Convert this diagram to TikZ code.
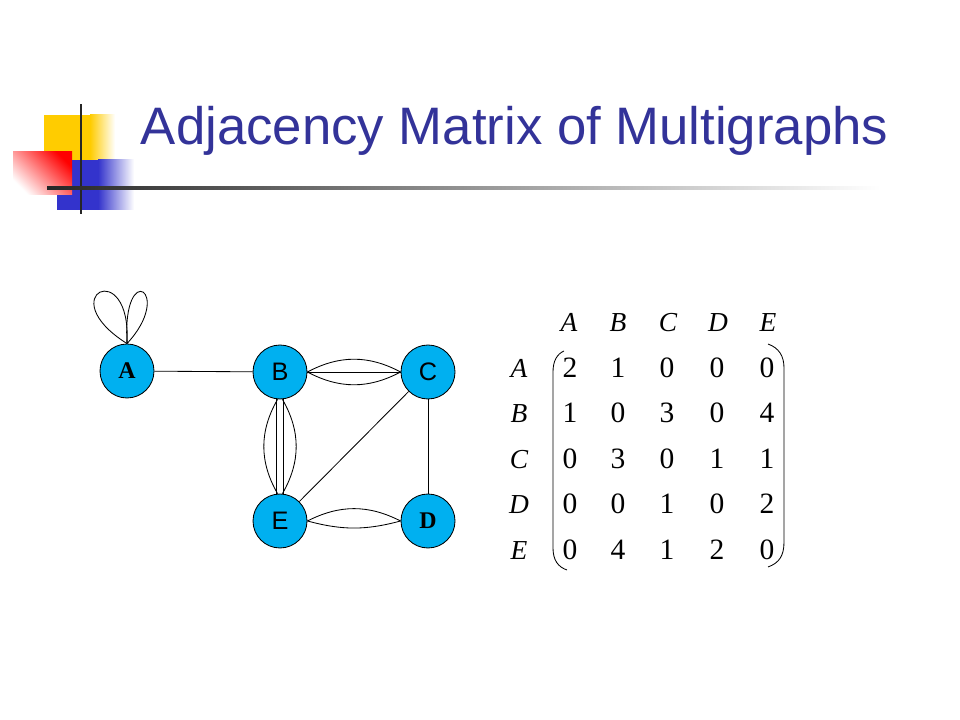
\documentclass[tikz,border=0pt]{standalone}
\usepackage{fontspec}
\setmainfont{Liberation Serif}
\setsansfont{Liberation Sans}
\usepackage{tikz}
\definecolor{titleblue}{RGB}{51,51,153}
\definecolor{nodeblue}{RGB}{0,176,240}
\definecolor{decoyellow}{RGB}{255,204,0}
\definecolor{decoblue}{RGB}{51,51,204}

\begin{document}
\begin{tikzpicture}[x=0.025cm,y=-0.025cm,
  vertex/.style={circle,draw=black,line width=0.6pt,fill=nodeblue,minimum size=38.4pt,inner sep=0pt},
  sflab/.style={font=\sffamily\fontsize{18}{21}\selectfont},
  rmlab/.style={font=\bfseries\fontsize{17}{20}\selectfont},
  edge/.style={line width=0.6pt},
  entry/.style={font=\fontsize{21}{25}\selectfont,anchor=base},
  hdr/.style={font=\itshape\fontsize{19.5}{23}\selectfont,anchor=base}]
\useasboundingbox (0,0) rectangle (960,720);
% title bar
\fill[decoyellow] (44,115) rectangle (90,165);
\shade[left color=decoyellow,right color=white] (90,115) rectangle (115,165);
\fill[decoblue] (57,160) rectangle (98,210);
\shade[left color=decoblue,right color=white] (98,160) rectangle (134,210);
\shade[top color=red,bottom color=white,shading angle=-45] (13,152) rectangle (72,195);
\fill[black!85] (80,104) rectangle (82,214);
\shade[left color=black!85,middle color=black!55,right color=white] (47,187) rectangle (880,190);
\path (136,145) node[anchor=base west,text=titleblue,font=\sffamily\fontsize{37.5}{44}\selectfont] (title) {Adjacency Matrix of Multigraphs};
% graph
\node[vertex,rmlab] (A) at (127,371) {A};
\node[vertex,sflab] (B) at (280,372) {B};
\node[vertex,sflab] (C) at (428,372) {C};
\node[vertex,sflab] (E) at (280,521) {E};
\node[vertex,rmlab] (D) at (428,521) {D};
\draw[edge] (A.north) .. controls (50,295) and (132,255) .. (A.north);
\draw[edge] (A.north) .. controls (122,258) and (175,292) .. (A.north);
\draw[edge] (A) -- (B);
\draw[edge] (B.east) -- (C.west);
\draw[edge] (B.east) to[bend left=28] (C.west);
\draw[edge] (B.east) to[bend right=28] (C.west);
\draw[edge] (B.263) -- (E.97);
\draw[edge] (B.277) -- (E.83);
\draw[edge] (B.265) to[bend right=30] (E.95);
\draw[edge] (B.275) to[bend left=30] (E.85);
\draw[edge] (E) -- (C);
\draw[edge] (C) -- (D);
\draw[edge] (E.east) to[bend left=27] (D.west);
\draw[edge] (E.east) to[bend right=15] (D.west);
% matrix
\path (569,332) node[hdr] (hA) {A};
\path (618,332) node[hdr] (hB) {B};
\path (668,332) node[hdr] (hC) {C};
\path (718,332) node[hdr] (hD) {D};
\path (768,332) node[hdr] (hE) {E};
\path (519,378) node[hdr] (rA) {A};
\path (519,423) node[hdr] (rB) {B};
\path (519,469) node[hdr] (rC) {C};
\path (519,514) node[hdr] (rD) {D};
\path (519,560) node[hdr] (rE) {E};
\path (570,378) node[entry] (mAA) {2};
\path (618,378) node[entry] (mAB) {1};
\path (667,378) node[entry] (mAC) {0};
\path (717,378) node[entry] (mAD) {0};
\path (767,378) node[entry] (mAE) {0};
\path (570,423) node[entry] (mBA) {1};
\path (618,423) node[entry] (mBB) {0};
\path (667,423) node[entry] (mBC) {3};
\path (717,423) node[entry] (mBD) {0};
\path (767,423) node[entry] (mBE) {4};
\path (570,469) node[entry] (mCA) {0};
\path (618,469) node[entry] (mCB) {3};
\path (667,469) node[entry] (mCC) {0};
\path (717,469) node[entry] (mCD) {1};
\path (767,469) node[entry] (mCE) {1};
\path (570,514) node[entry] (mDA) {0};
\path (618,514) node[entry] (mDB) {0};
\path (667,514) node[entry] (mDC) {1};
\path (717,514) node[entry] (mDD) {0};
\path (767,514) node[entry] (mDE) {2};
\path (570,560) node[entry] (mEA) {0};
\path (618,560) node[entry] (mEB) {4};
\path (667,560) node[entry] (mEC) {1};
\path (717,560) node[entry] (mED) {2};
\path (767,560) node[entry] (mEE) {0};
\draw[edge] (564,351) .. controls (557,354) and (553,361) .. (553,372) -- (553,548) .. controls (553,560) and (558,567) .. (567,570);
\draw[edge] (768,344) .. controls (779,348) and (784,356) .. (784,368) -- (784,542) .. controls (784,556) and (779,563) .. (768,567);
\end{tikzpicture}
\end{document}
